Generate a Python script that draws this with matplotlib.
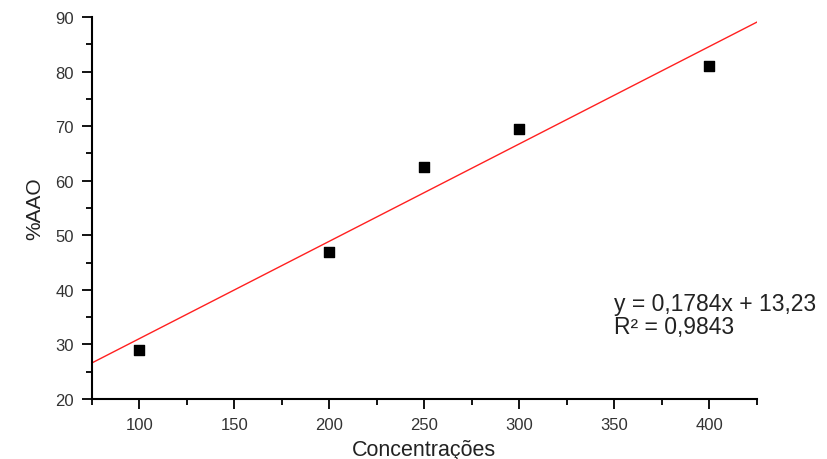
import matplotlib
matplotlib.use("Agg")
import matplotlib.pyplot as plt
from matplotlib.ticker import MultipleLocator

concentracoes = [100, 200, 250, 300, 400]
aao = [29.0, 47.0, 62.5, 69.5, 81.0]
slope = 0.1784
intercept = 13.23
eq_text = "y = 0,1784x + 13,23\nR² = 0,9843"

plt.rcParams['font.family'] = ['Liberation Sans', 'DejaVu Sans']

fig = plt.figure(figsize=(8.28, 4.6), dpi=100)
ax = fig.add_axes([0.111, 0.1304, 0.803, 0.8305])

xlim = (75, 425)
ax.set_xlim(*xlim)
ax.set_ylim(20, 90)

xs = [xlim[0], xlim[1]]
ax.plot(xs, [slope * v + intercept for v in xs], color='#ff2020', lw=1.0, zorder=2)
ax.scatter(concentracoes, aao, marker='s', s=55, color='black', zorder=3)

for s in ['top', 'right']:
    ax.spines[s].set_visible(False)
for s in ['left', 'bottom']:
    ax.spines[s].set_linewidth(1.5)

ax.xaxis.set_major_locator(MultipleLocator(50))
ax.xaxis.set_minor_locator(MultipleLocator(25))
ax.yaxis.set_major_locator(MultipleLocator(10))
ax.yaxis.set_minor_locator(MultipleLocator(5))
ax.tick_params(which='major', length=7, width=1.3, labelsize=12, labelcolor='#333333', pad=6)
ax.tick_params(which='minor', length=4, width=1.3)

ax.set_xlabel('Concentrações', fontsize=15.5, color='#222222', labelpad=5)
ax.set_ylabel('%AAO', fontsize=15, color='#222222', labelpad=8)

fig.text(0.7415, 0.313, eq_text, fontsize=16.5, color='#222222', va='center', ha='left', linespacing=0.95)

fig.savefig('out.png', dpi=100)
